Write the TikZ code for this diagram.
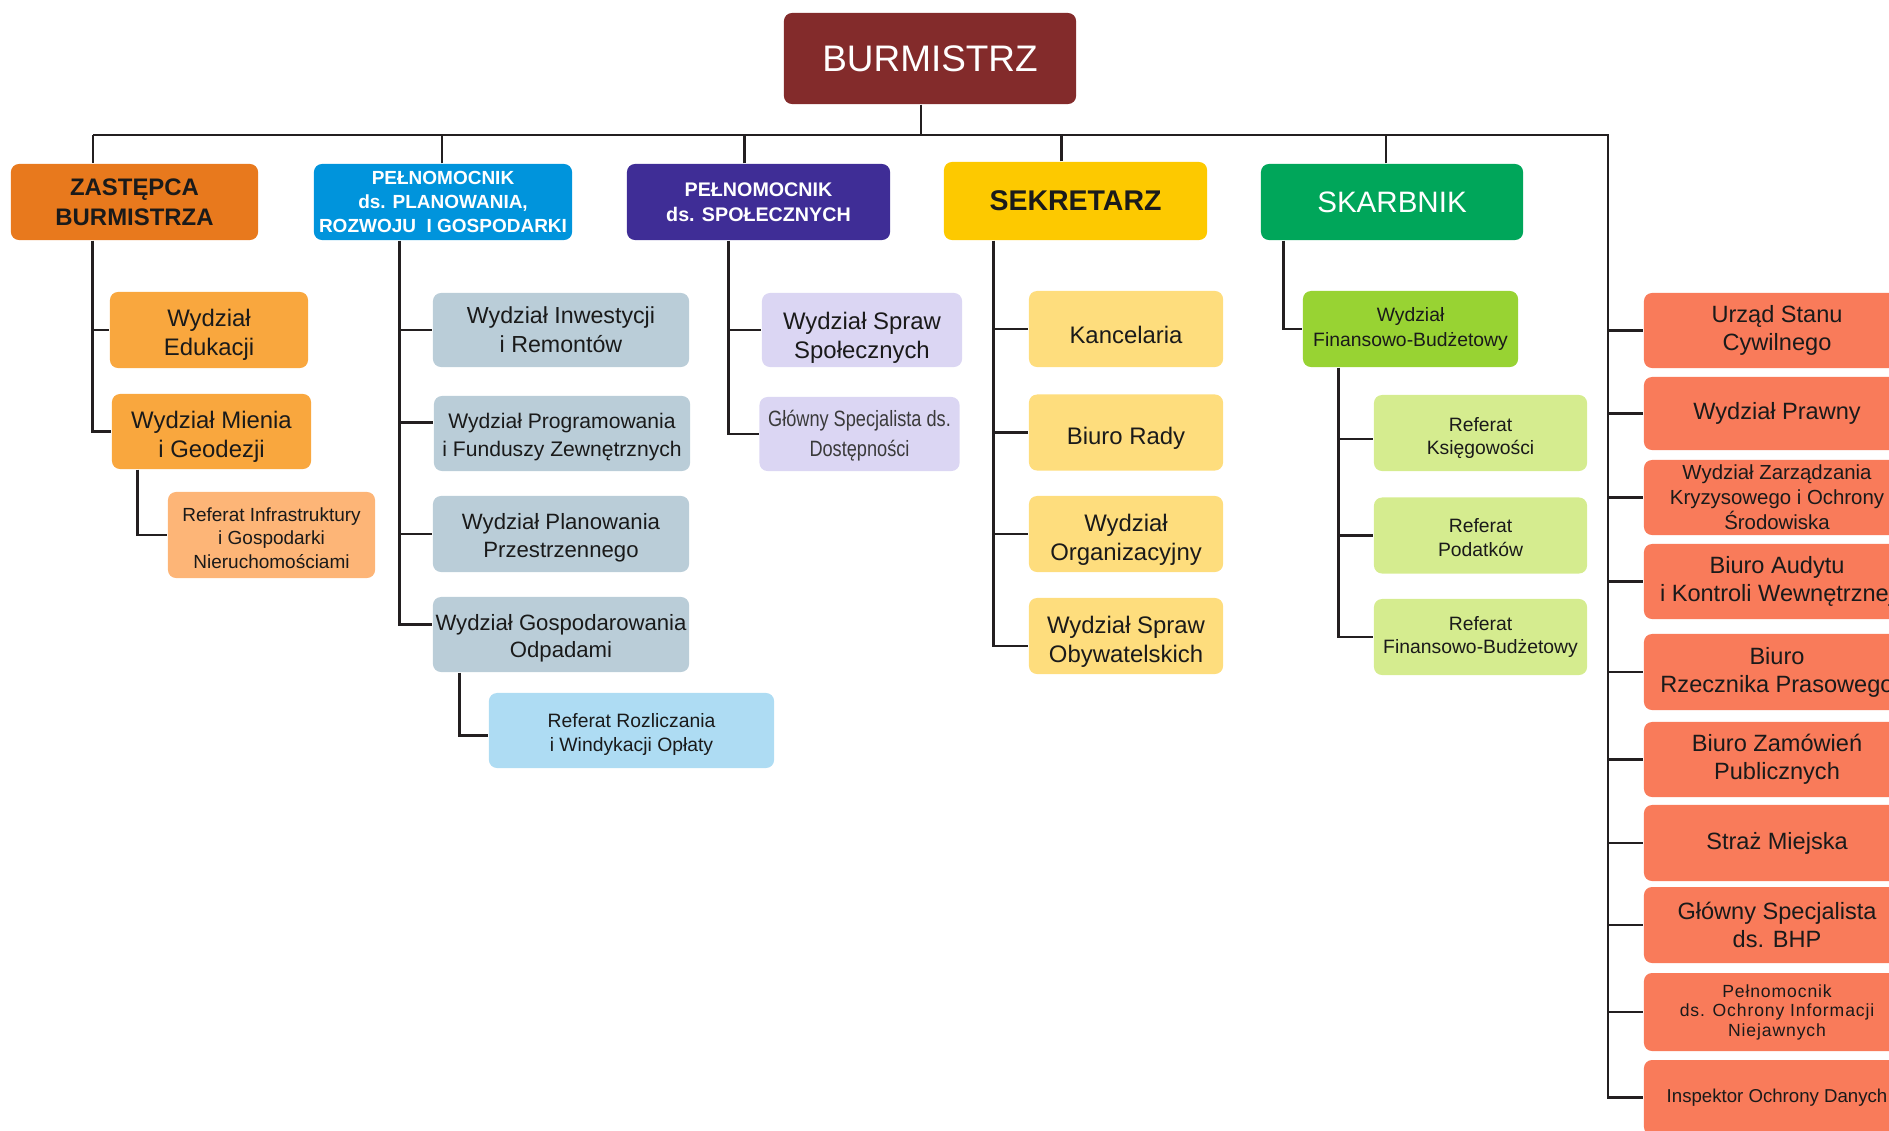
\documentclass[tikz,border=0pt]{standalone}
\usepackage{fontspec}
\setmainfont{Liberation Sans}
\newfontfamily\narrowfont[FakeStretch=0.82]{Liberation Sans}
\usetikzlibrary{calc}

\definecolor{burmred}{HTML}{832B2B}
\definecolor{zastorange}{HTML}{E8791D}
\definecolor{planblue}{HTML}{0094DC}
\definecolor{spolviolet}{HTML}{3F2D96}
\definecolor{sekryellow}{HTML}{FDC900}
\definecolor{skarbgreen}{HTML}{00A65A}
\definecolor{eduorange}{HTML}{F9A73E}
\definecolor{infrapeach}{HTML}{FDB577}
\definecolor{grayblue}{HTML}{BACDD8}
\definecolor{rozlblue}{HTML}{AEDCF3}
\definecolor{spollav}{HTML}{DBD6F3}
\definecolor{sekrlight}{HTML}{FEDD7D}
\definecolor{skarblime}{HTML}{98D333}
\definecolor{skarblight}{HTML}{D5EC8F}
\definecolor{coral}{HTML}{F97B5A}
\definecolor{linegray}{HTML}{231F20}
\definecolor{txtdark}{HTML}{1A1A1A}
\definecolor{txtgray}{HTML}{3A3A3A}

% strut that lowers the text of a box by half its extra height
\newcommand{\lowr}[1]{\rule{0pt}{\dimexpr0.73em+#1\relax}}

\tikzset{
  conn/.style={draw=linegray, line width=0.75pt},
  orgbox/.style={rectangle, rounded corners=2.3pt, inner sep=0pt, align=center,
    minimum height=0.75cm, text=txtdark, font=\fontsize{6.8}{8.2}\selectfont},
  topbox/.style={orgbox, minimum width=2.62cm, minimum height=0.76cm},
  graybox/.style={orgbox, fill=grayblue, minimum width=2.56cm},
  lavbox/.style={orgbox, fill=spollav, minimum width=2.0cm, minimum height=0.74cm},
  yelbox/.style={orgbox, fill=sekrlight, minimum width=1.94cm, minimum height=0.76cm},
  limebox/.style={orgbox, fill=skarblight, minimum width=2.13cm, minimum height=0.76cm,
    font=\fontsize{5.5}{6.8}\selectfont},
  coralbox/.style={orgbox, fill=coral, minimum width=2.66cm, font=\fontsize{6.7}{8}\selectfont}
}

\begin{document}
\begin{tikzpicture}[x=0.01cm, y=-0.01cm]
\useasboundingbox (0,0) rectangle (1889,1130);
\clip (0,0) rectangle (1889,1130);

% top
\node[orgbox, fill=burmred, text=white, minimum width=2.92cm, minimum height=0.91cm,
  font=\fontsize{10.5}{12}\selectfont] (burm) at (930,58.5) {BURMISTRZ};

% first level
\node[topbox, fill=zastorange, minimum width=2.47cm, font=\bfseries\fontsize{6.8}{8.5}\selectfont] (zast) at (134.5,202) {ZASTĘPCA\\BURMISTRZA};
\node[topbox, fill=planblue, text=white, minimum width=2.58cm, font=\bfseries\fontsize{5.4}{6.7}\selectfont] (plan) at (443,202) {PEŁNOMOCNIK\\ds. PLANOWANIA,\\ROZWOJU~ I GOSPODARKI};
\node[topbox, fill=spolviolet, text=white, minimum width=2.63cm, font=\bfseries\fontsize{5.6}{7.2}\selectfont] (spol) at (758.5,202) {PEŁNOMOCNIK\\ds. SPOŁECZNYCH};
\node[topbox, fill=sekryellow, minimum width=2.63cm, minimum height=0.78cm, font=\bfseries\fontsize{8.1}{9}\selectfont] (sekr) at (1075.5,201) {SEKRETARZ};
\node[topbox, fill=skarbgreen, text=white, font=\fontsize{8.4}{9}\selectfont] (skarb) at (1392,202) {SKARBNIK};

% zastepca
\node[orgbox, fill=eduorange, minimum width=1.98cm, minimum height=0.76cm] (edu) at (209,330) {\lowr{2.8pt}Wydział\\Edukacji};
\node[orgbox, fill=eduorange, minimum width=1.99cm] (mien) at (211.5,431.5) {\lowr{2.8pt}Wydział Mienia\\i Geodezji};
\node[orgbox, fill=infrapeach, minimum width=2.07cm, minimum height=0.86cm, font=\fontsize{5.4}{6.7}\selectfont] (infra) at (271.5,535) {\lowr{1.6pt}Referat Infrastruktury\\i Gospodarki\\Nieruchomościami};

% pelnomocnik planowania
\node[graybox, minimum height=0.74cm, font=\fontsize{6.6}{8.2}\selectfont] (inw) at (561,330) {Wydział Inwestycji\\i Remontów};
\node[graybox, font=\fontsize{6.0}{7.9}\selectfont] (prog) at (562,433.5) {\lowr{2.2pt}Wydział Programowania\\i Funduszy Zewnętrznych};
\node[graybox, minimum height=0.76cm, font=\fontsize{6.3}{8}\selectfont] (plprz) at (561,534) {\lowr{2.2pt}Wydział Planowania\\Przestrzennego};
\node[graybox, font=\fontsize{6.3}{7.8}\selectfont] (gosp) at (561,634.5) {\lowr{2.2pt}Wydział Gospodarowania\\Odpadami};
\node[orgbox, fill=rozlblue, minimum width=2.85cm, font=\fontsize{5.5}{6.8}\selectfont] (rozl) at (631.5,730.5) {\lowr{2.4pt}Referat Rozliczania\\i Windykacji Opłaty};

% pelnomocnik spoleczny
\node[lavbox] (sspol) at (862,330) {\lowr{4.6pt}Wydział Spraw\\Społecznych};
\node[lavbox, text=txtgray, font=\narrowfont\fontsize{6.3}{8.5}\selectfont] (dost) at (859.5,434) {\lowr{1.2pt}Główny Specjalista ds.\\Dostępności};

% sekretarz
\node[yelbox] (kanc) at (1126,329) {\lowr{3.4pt}Kancelaria};
\node[yelbox] (rady) at (1126,432.5) {\lowr{3.4pt}Biuro Rady};
\node[yelbox] (org) at (1126,534) {\lowr{3.4pt}Wydział\\Organizacyjny};
\node[yelbox] (obyw) at (1126,636) {\lowr{3.4pt}Wydział Spraw\\Obywatelskich};

% skarbnik
\node[orgbox, fill=skarblime, minimum width=2.15cm, minimum height=0.76cm, font=\fontsize{5.5}{7.1}\selectfont] (fin) at (1410.5,329) {Wydział\\Finansowo-Budżetowy};
\node[limebox] (ksieg) at (1480.5,433) {\lowr{2.8pt}Referat\\Księgowości};
\node[limebox] (pod) at (1480.5,535.5) {\lowr{1.2pt}Referat\\Podatków};
\node[limebox] (refin) at (1480.5,637) {Referat\\Finansowo-Budżetowy};

% samodzielne stanowiska
\node[coralbox] (usc) at (1777,330.5) {Urząd Stanu\\Cywilnego};
\node[coralbox, minimum height=0.73cm] (prawny) at (1777,413.5) {Wydział Prawny};
\node[coralbox, font=\fontsize{5.8}{7.1}\selectfont] (zarz) at (1777,497.5) {Wydział Zarządzania\\Kryzysowego i Ochrony\\Środowiska};
\node[coralbox] (audyt) at (1777,581.5) {Biuro Audytu\\i Kontroli Wewnętrznej};
\node[coralbox, minimum height=0.76cm] (rzecz) at (1777,672) {Biuro\\Rzecznika Prasowego};
\node[coralbox] (zam) at (1777,759.5) {Biuro Zamówień\\Publicznych};
\node[coralbox, minimum height=0.76cm] (straz) at (1777,843) {Straż Miejska};
\node[coralbox, minimum height=0.76cm] (bhp) at (1777,925) {Główny Specjalista\\ds. BHP};
\node[coralbox, minimum height=0.78cm, font=\fontsize{5.0}{5.55}\selectfont\addfontfeatures{LetterSpace=5}] (niej) at (1777,1012) {Pełnomocnik\\ds. Ochrony Informacji\\Niejawnych};
\node[coralbox, font=\fontsize{5.3}{6.5}\selectfont] (iod) at (1777,1097.5) {Inspektor Ochrony Danych};

% bus
\coordinate (busL) at (93,135);
\coordinate (busR) at (1608,135);
\draw[conn] ($(burm.south)+(-9,0)$) |- (busL);
\draw[conn] (busL) -- (busR) |- (iod.west);
\draw[conn] (busL) -- (busL |- zast.north);
\draw[conn] ($(plan.north)+(-1,0)$) |- (busL);
\draw[conn] ($(spol.north)+(-14,0)$) |- (busL);
\draw[conn] ($(sekr.north)+(-14,0)$) |- (busL);
\draw[conn] ($(skarb.north)+(-6,0)$) |- (busL);
\foreach \n in {usc,prawny,zarz,audyt,rzecz,zam,straz,bhp,niej}
  \draw[conn] (\n.west -| busR) -- (\n.west);

% zastepca branches
\coordinate (zt) at ($(zast.south west)+(82,0)$);
\draw[conn] (zt) |- (mien.west);
\draw[conn] (edu.west -| zt) -- (edu.west);
\draw[conn] ($(mien.south west)+(26,0)$) |- (infra.west);

% planowanie branches
\coordinate (pt) at ($(plan.south west)+(86,0)$);
\coordinate (progin) at ($(prog.west)+(0,-11)$);
\coordinate (gospin) at ($(gosp.west)+(0,-10)$);
\draw[conn] (pt) |- (gospin);
\draw[conn] (inw.west -| pt) -- (inw.west);
\draw[conn] (progin -| pt) -- (progin);
\draw[conn] (plprz.west -| pt) -- (plprz.west);
\draw[conn] ($(gosp.south west)+(27,0)$) |- ($(rozl.west)+(0,5)$);

% spoleczne branches
\coordinate (st) at ($(spol.south west)+(102,0)$);
\draw[conn] (st) |- (dost.west);
\draw[conn] (sspol.west -| st) -- (sspol.west);

% sekretarz branches
\coordinate (kt) at ($(sekr.south west)+(50,0)$);
\coordinate (obywin) at ($(obyw.west)+(0,10)$);
\draw[conn] (kt) |- (obywin);
\draw[conn] (kanc.west -| kt) -- (kanc.west);
\draw[conn] (rady.west -| kt) -- (rady.west);
\draw[conn] (org.west -| kt) -- (org.west);

% skarbnik branches
\draw[conn] ($(skarb.south west)+(23,0)$) |- (fin.west);
\coordinate (ft) at ($(fin.south west)+(36,0)$);
\coordinate (ksiegin) at ($(ksieg.west)+(0,6)$);
\draw[conn] (ft) |- (refin.west);
\draw[conn] (ksiegin -| ft) -- (ksiegin);
\draw[conn] (pod.west -| ft) -- (pod.west);
\end{tikzpicture}
\end{document}
